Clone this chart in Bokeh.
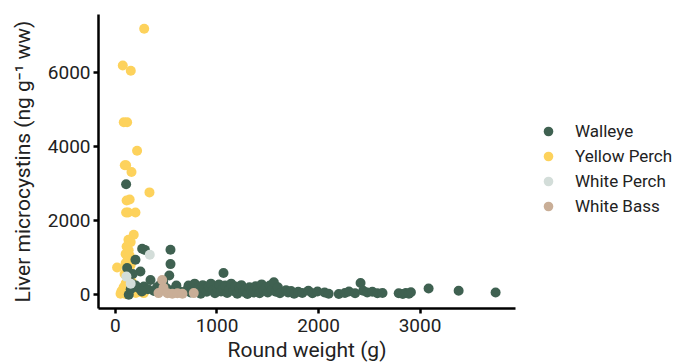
from bokeh.plotting import figure
from bokeh.models import Range1d, FixedTicker, Legend, LegendItem, ColumnDataSource
from bokeh.embed import file_html
from bokeh.resources import INLINE

# ---- data ----
walleye_x = [105, 263, 290, 542, 542, 197, 115, 246, 170, 530, 345, 443, 131, 160, 200, 230, 280, 320, 380, 410, 470, 500, 560, 600, 640, 150, 260,
             1064, 700, 720, 740, 760, 780, 800, 820, 840, 860, 880, 900, 920, 940, 960, 980, 1000, 1020, 1040, 1060, 1080, 1100, 1120, 1140,
             1160, 1180, 1200, 1220, 1240, 1260, 1280, 1300, 1320, 1340, 1360, 1380, 1400, 1420, 1440, 1460, 1480, 1500, 1520, 1540, 1560,
             1580, 1600, 1620,
             1680, 1700, 1730, 1760, 1800, 1840, 1900, 1940, 1990, 2060, 2100, 2200, 2260, 2300, 2360, 2414, 2440, 2480, 2530, 2580, 2630,
             2790, 2830, 2860, 2890, 2910, 3084, 3380, 3744]
walleye_y = [2980, 1240, 1210, 1213, 827, 943, 720, 628, 560, 520, 400, 270, 0, 300, 250, 180, 220, 150, 100, 200, 350, 180, 120, 250, 80, 150, 90,
             585, 120, 250, 60, 180, 300, 100, 200, 30, 260, 150, 80, 220, 300, 120, 40, 200, 280, 90, 170, 250, 50, 150, 300,
             100, 220, 30, 180, 260, 80, 140, 20, 200, 100, 60, 230, 150, 40, 280, 120, 190, 60, 250, 130, 340,
             80, 200, 40,
             120, 60, 100, 30, 80, 50, 110, 40, 90, 60, 30, 20, 50, 90, 40, 315, 110, 60, 80, 40, 50,
             40, 20, 50, 30, 70, 170, 110, 60]

yperch_x = [283, 72, 151, 82, 115, 213, 92, 105, 158, 335, 110, 140, 105, 125, 197, 180, 128, 150, 110, 130, 100, 140, 120, 100, 150, 16,
            120, 90, 130, 160, 100, 140, 80, 110, 170, 60, 130, 200, 279, 100, 230, 50]
yperch_y = [7170, 6180, 6040, 4650, 4650, 3880, 3490, 3490, 3310, 2760, 2540, 2570, 2220, 2220, 2220, 1617, 1480, 1420, 1300, 1200, 1100, 1050,
            950, 850, 800, 735, 650, 560, 400, 350, 300, 250, 200, 150, 120, 100, 60, 50, 45, 20, 80, 30]

wperch_x = [338, 108, 150]
wperch_y = [1080, 490, 300]

wbass_x = [424, 460, 473, 512, 560, 610, 660, 771]
wbass_y = [45, 400, 190, 40, 30, 40, 30, 45]

x_ticks = [0, 1000, 2000, 3000]
y_ticks = [0, 2000, 4000, 6000]

series_names = ["Walleye", "Yellow Perch", "White Perch", "White Bass"]
colors = {"Walleye": "#3F6151", "Yellow Perch": "#FDD25C", "White Perch": "#D3DDD9", "White Bass": "#C9AE97"}

# ---- figure ----
p = figure(frame_width=417, frame_height=294, output_backend="svg", toolbar_location=None,
           x_range=Range1d(-167, 3940), y_range=Range1d(-370, 7555),
           min_border_left=98, min_border_top=14, min_border_bottom=46, min_border_right=150)

p.xgrid.visible = False
p.ygrid.visible = False
p.outline_line_color = None
p.background_fill_color = "white"
p.border_fill_color = "white"

renderers = {}
order = [("Yellow Perch", yperch_x, yperch_y), ("Walleye", walleye_x, walleye_y),
         ("White Perch", wperch_x, wperch_y), ("White Bass", wbass_x, wbass_y)]
for name, xs, ys in order:
    src = ColumnDataSource(dict(x=xs, y=ys))
    renderers[name] = p.scatter("x", "y", source=src, size=10, marker="circle",
                                fill_color=colors[name], line_color=None)

font = "Roboto"
for ax in (p.xaxis[0], p.yaxis[0]):
    ax.axis_line_width = 2.5
    ax.axis_line_color = "black"
    ax.major_tick_line_width = 2.5
    ax.major_tick_line_color = "black"
    ax.major_tick_out = 5
    ax.major_tick_in = 0
    ax.minor_tick_line_color = None
    ax.major_label_text_font = font
    ax.major_label_text_font_size = "19px"
    ax.major_label_text_color = "#222222"
    ax.axis_label_text_font = font
    ax.axis_label_text_font_size = "21px"
    ax.axis_label_text_font_style = "normal"
    ax.axis_label_text_color = "#222222"

p.xaxis.ticker = FixedTicker(ticks=x_ticks)
p.yaxis.ticker = FixedTicker(ticks=y_ticks)
p.xaxis.axis_label = "Round weight (g)"
p.yaxis.axis_label = "Liver microcystins (ng g\u207b\u00b9 ww)"
p.xaxis.major_label_standoff = 5
p.yaxis.major_label_standoff = 3
p.xaxis.axis_label_standoff = 3
p.yaxis.axis_label_standoff = 10

items = [LegendItem(label=n, renderers=[renderers[n]]) for n in series_names]
legend = Legend(items=items, location=(21, 90), orientation="vertical",
                glyph_width=24, glyph_height=24, label_height=20, spacing=1,
                label_standoff=15, padding=0, margin=0,
                border_line_color=None, background_fill_alpha=0,
                label_text_font=font, label_text_font_size="17px", label_text_color="#222222")
p.add_layout(legend, "right")

open("out.html", "w").write(file_html(p, INLINE))
